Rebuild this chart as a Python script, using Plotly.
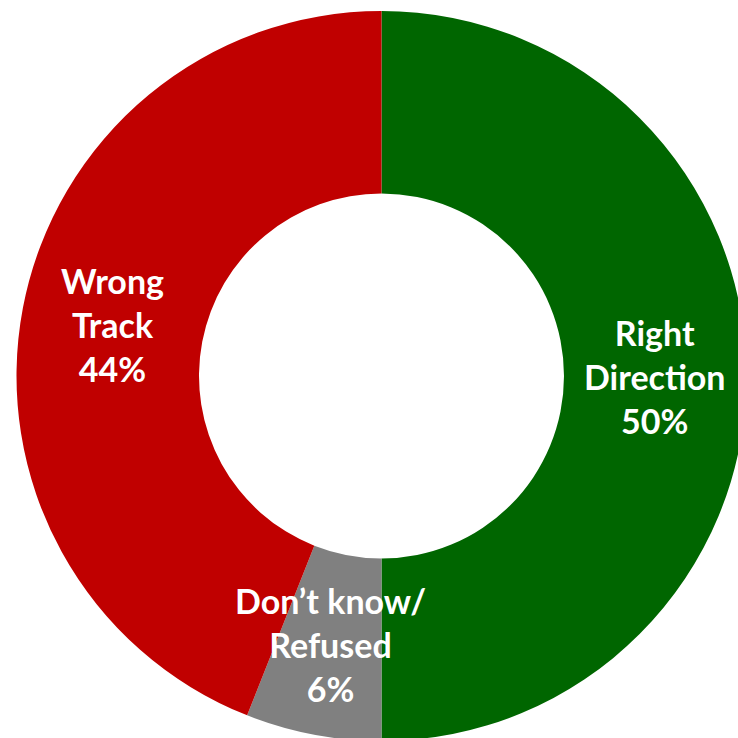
import math
import plotly.graph_objects as go

# Survey responses: is the country heading in the right direction?
categories = ["Right Direction", "Don’t know/ Refused", "Wrong Track"]
label_lines = ["Right<br>Direction", "Don’t know/<br>Refused", "Wrong<br>Track"]
values = [50, 6, 44]
colors = ["#006600", "#808080", "#C00000"]

HOLE = 0.5
RADIUS_PX = 365
W_PLOT, H_PLOT = 731, 730
MARGIN_L, MARGIN_T = 16, 11

fig = go.Figure(
    go.Pie(
        labels=categories,
        values=values,
        hole=HOLE,
        sort=False,
        direction="clockwise",
        rotation=0,
        marker=dict(colors=colors, line=dict(width=0)),
        textinfo="none",
        hoverinfo="label+percent",
        showlegend=False,
        domain=dict(x=[0, 1], y=[0, 1]),
    )
)

# Labels sit at the middle of each slice, halfway across the ring
total = sum(values)
mid_r = RADIUS_PX * (1 + HOLE) / 2
cum = 0
for name, v in zip(label_lines, values):
    mid_frac = (cum + v / 2) / total
    cum += v
    ang = 2 * math.pi * mid_frac  # clockwise from 12 o'clock
    dx = mid_r * math.sin(ang)
    dy = mid_r * math.cos(ang)
    fig.add_annotation(
        x=0.5 + dx / W_PLOT,
        y=0.5 + dy / H_PLOT,
        xref="paper",
        yref="paper",
        text=f"{name}<br>{round(100 * v / total)}%",
        showarrow=False,
        xanchor="center",
        yanchor="middle",
        align="center",
        font=dict(family="Lato", size=34, color="white", weight="bold"),
    )

fig.update_layout(
    width=MARGIN_L + W_PLOT,
    height=MARGIN_T + H_PLOT,
    margin=dict(l=MARGIN_L, r=0, t=MARGIN_T, b=0, pad=0),
    paper_bgcolor="white",
    plot_bgcolor="white",
)

fig.write_html(
    "out.html",
    post_script="document.body.style.margin='0';document.body.style.overflow='hidden';",
)
